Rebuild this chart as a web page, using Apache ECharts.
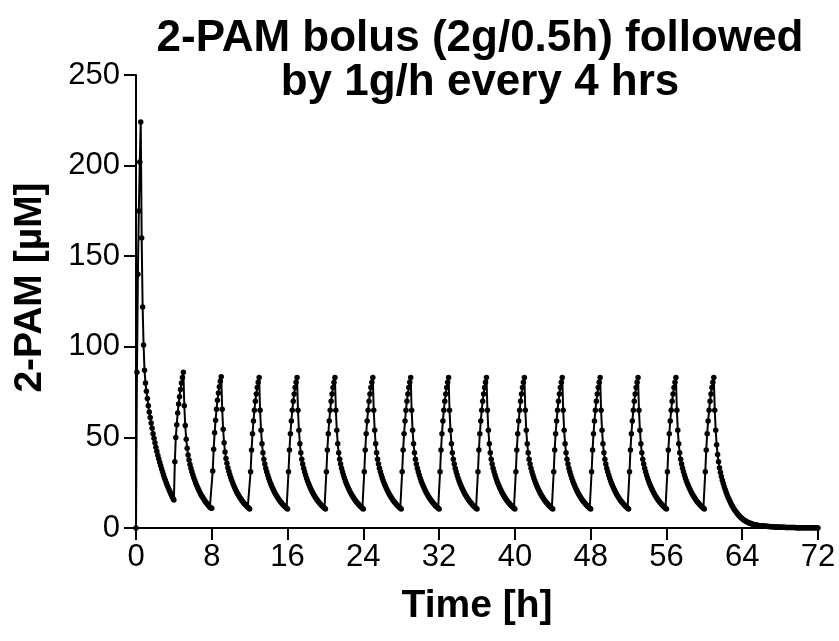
<!DOCTYPE html>
<html>
<head>
<meta charset="utf-8">
<title>2-PAM bolus</title>
<script src="https://cdn.jsdelivr.net/npm/echarts@6/dist/echarts.min.js"></script>
<style>
    html, body { margin: 0; padding: 0; background: #fff; }
    #chart { width: 839px; height: 641px; }
</style>
</head>
<body>
<div id="chart"></div>
<script>
    // sampling grid of the simulation (hours between points)
    var sampleStep = 0.1;

    // 0 - 3.9 h : loading bolus 2 g over 0.5 h
    var bolusPhase = [
        0, 86, 140, 175, 202, 224, 160, 122, 101, 87,
        80, 75.5, 71.5, 67.5, 64, 61, 58, 55, 52, 49.5,
        47, 44.5, 42.3, 40.2, 38.2, 36.3, 34.5, 32.7, 31, 29.4,
        27.8, 26.3, 24.9, 23.5, 22.2, 21, 19.8, 18.6, 17.4, 16.4
    ];

    // maintenance doses 1 g/h, one row per 4 h cycle, starting at 4, 8, ... 56 h
    var cycleStarts = [4, 8, 12, 16, 20, 24, 28, 32, 36, 40, 44, 48, 52, 56];
    var cycleValues = [
        [15.5, 36.5, 50, 57, 63.5, 68.5, 72.5, 76.5, 80, 83, 86, 67.5, 56.5, 49, 44, 40.3, 37.5, 35, 33, 31.1, 29.4, 27.8, 26.3, 24.9, 23.6, 22.4, 21.2, 20.1, 19.1, 18.1, 17.2, 16.4, 15.6, 14.8, 14.1, 13.4, 12.7, 12.1, 11.5, 11],
        [10.9, 31.5, 43.5, 52.5, 59.5, 65.5, 70.5, 74.5, 78, 81, 83.5, 65.5, 54.5, 47, 42, 38.4, 35.7, 33.3, 31.3, 29.5, 27.9, 26.4, 25, 23.7, 22.5, 21.3, 20.2, 19.2, 18.3, 17.4, 16.6, 15.8, 15.1, 14.4, 13.7, 13.1, 12.5, 12, 11.5, 11],
        [10.5, 31, 43, 52, 59, 65, 70, 74, 77.5, 80.5, 83, 65, 54, 46.5, 41.5, 38, 35.3, 33, 31, 29.2, 27.6, 26.1, 24.7, 23.4, 22.2, 21.1, 20, 19, 18.1, 17.2, 16.4, 15.6, 14.9, 14.2, 13.6, 13, 12.4, 11.9, 11.4, 10.9],
        [10.5, 31, 43, 52, 59, 65, 70, 74, 77.5, 80.5, 83, 65, 54, 46.5, 41.5, 38, 35.3, 33, 31, 29.2, 27.6, 26.1, 24.7, 23.4, 22.2, 21.1, 20, 19, 18.1, 17.2, 16.4, 15.6, 14.9, 14.2, 13.6, 13, 12.4, 11.9, 11.4, 10.9],
        [10.5, 31, 43, 52, 59, 65, 70, 74, 77.5, 80.5, 83, 65, 54, 46.5, 41.5, 38, 35.3, 33, 31, 29.2, 27.6, 26.1, 24.7, 23.4, 22.2, 21.1, 20, 19, 18.1, 17.2, 16.4, 15.6, 14.9, 14.2, 13.6, 13, 12.4, 11.9, 11.4, 10.9],
        [10.5, 31, 43, 52, 59, 65, 70, 74, 77.5, 80.5, 83, 65, 54, 46.5, 41.5, 38, 35.3, 33, 31, 29.2, 27.6, 26.1, 24.7, 23.4, 22.2, 21.1, 20, 19, 18.1, 17.2, 16.4, 15.6, 14.9, 14.2, 13.6, 13, 12.4, 11.9, 11.4, 10.9],
        [10.5, 31, 43, 52, 59, 65, 70, 74, 77.5, 80.5, 83, 65, 54, 46.5, 41.5, 38, 35.3, 33, 31, 29.2, 27.6, 26.1, 24.7, 23.4, 22.2, 21.1, 20, 19, 18.1, 17.2, 16.4, 15.6, 14.9, 14.2, 13.6, 13, 12.4, 11.9, 11.4, 10.9],
        [10.5, 31, 43, 52, 59, 65, 70, 74, 77.5, 80.5, 83, 65, 54, 46.5, 41.5, 38, 35.3, 33, 31, 29.2, 27.6, 26.1, 24.7, 23.4, 22.2, 21.1, 20, 19, 18.1, 17.2, 16.4, 15.6, 14.9, 14.2, 13.6, 13, 12.4, 11.9, 11.4, 10.9],
        [10.5, 31, 43, 52, 59, 65, 70, 74, 77.5, 80.5, 83, 65, 54, 46.5, 41.5, 38, 35.3, 33, 31, 29.2, 27.6, 26.1, 24.7, 23.4, 22.2, 21.1, 20, 19, 18.1, 17.2, 16.4, 15.6, 14.9, 14.2, 13.6, 13, 12.4, 11.9, 11.4, 10.9],
        [10.5, 31, 43, 52, 59, 65, 70, 74, 77.5, 80.5, 83, 65, 54, 46.5, 41.5, 38, 35.3, 33, 31, 29.2, 27.6, 26.1, 24.7, 23.4, 22.2, 21.1, 20, 19, 18.1, 17.2, 16.4, 15.6, 14.9, 14.2, 13.6, 13, 12.4, 11.9, 11.4, 10.9],
        [10.5, 31, 43, 52, 59, 65, 70, 74, 77.5, 80.5, 83, 65, 54, 46.5, 41.5, 38, 35.3, 33, 31, 29.2, 27.6, 26.1, 24.7, 23.4, 22.2, 21.1, 20, 19, 18.1, 17.2, 16.4, 15.6, 14.9, 14.2, 13.6, 13, 12.4, 11.9, 11.4, 10.9],
        [10.5, 31, 43, 52, 59, 65, 70, 74, 77.5, 80.5, 83, 65, 54, 46.5, 41.5, 38, 35.3, 33, 31, 29.2, 27.6, 26.1, 24.7, 23.4, 22.2, 21.1, 20, 19, 18.1, 17.2, 16.4, 15.6, 14.9, 14.2, 13.6, 13, 12.4, 11.9, 11.4, 10.9],
        [10.5, 31, 43, 52, 59, 65, 70, 74, 77.5, 80.5, 83, 65, 54, 46.5, 41.5, 38, 35.3, 33, 31, 29.2, 27.6, 26.1, 24.7, 23.4, 22.2, 21.1, 20, 19, 18.1, 17.2, 16.4, 15.6, 14.9, 14.2, 13.6, 13, 12.4, 11.9, 11.4, 10.9],
        [10.5, 31, 43, 52, 59, 65, 70, 74, 77.5, 80.5, 83, 65, 54, 46.5, 41.5, 38, 35.3, 33, 31, 29.2, 27.6, 26.1, 24.7, 23.4, 22.2, 21.1, 20, 19, 18.1, 17.2, 16.4, 15.6, 14.9, 14.2, 13.6, 13, 12.4, 11.9, 11.4, 10.9]
    ];

    // 60 - 72 h : last dose and washout
    var washout = [
        10.5, 31, 43, 52, 59, 65, 70, 74, 77.5, 80.5, 83,
        65, 54, 46, 40.5, 36.5, 33.3, 30.7, 28.4, 26.4, 24.5,
        22.8, 21.2, 19.7, 18.3, 17, 15.8, 14.7, 13.6, 12.6, 11.7,
        10.8, 10, 9.2, 8.5, 7.8, 7.2, 6.6, 6.1, 5.6, 5.1,
        4.7, 4.3, 4, 3.7, 3.4, 3.1, 2.9, 2.7, 2.5, 2.3,
        2.1, 1.95, 1.8, 1.7, 1.6, 1.5, 1.4, 1.3, 1.25, 1.2,
        1.15, 1.1, 1.05, 1, 0.95, 0.9, 0.86, 0.82, 0.78, 0.74,
        0.7, 0.67, 0.64, 0.61, 0.58, 0.55, 0.52, 0.5, 0.47, 0.45,
        0.43, 0.41, 0.39, 0.37, 0.35, 0.34, 0.32, 0.31, 0.29, 0.28,
        0.27, 0.25, 0.24, 0.23, 0.22, 0.21, 0.2, 0.19, 0.18, 0.17,
        0.16, 0.16, 0.15, 0.14, 0.13, 0.13, 0.12, 0.12, 0.11, 0.1,
        0.1, 0.09, 0.09, 0.08, 0.08, 0.08, 0.07, 0.07, 0.07, 0.06
    ];

    var xTicks = [0, 8, 16, 24, 32, 40, 48, 56, 64, 72];
    var yTicks = [0, 50, 100, 150, 200, 250];

    // put the pieces together on the time grid
    var concentration = bolusPhase.slice();
    cycleValues.forEach(function (row) {
        concentration = concentration.concat(row);
    });
    concentration = concentration.concat(washout);

    var points = concentration.map(function (v, i) {
        return [Math.round(i * sampleStep * 10) / 10, v];
    });

    var FONT = "'Liberation Sans', Arial, sans-serif";

    var myChart = echarts.init(document.getElementById('chart'));

    var option = {
        animation: false,
        backgroundColor: '#fff',
        title: {
            text: '2-PAM bolus (2g/0.5h) followed\nby 1g/h every 4 hrs',
            left: 475,
            top: 12,
            textAlign: 'center',
            textStyle: {
                fontFamily: FONT,
                fontSize: 44,
                fontWeight: 'bold',
                lineHeight: 44,
                color: '#000'
            }
        },
        grid: {
            left: 136,
            right: 21,
            top: 75,
            bottom: 113
        },
        xAxis: {
            type: 'value',
            min: xTicks[0],
            max: xTicks[xTicks.length - 1],
            interval: xTicks[1] - xTicks[0],
            name: 'Time [h]',
            nameLocation: 'middle',
            nameGap: 59,
            nameTextStyle: {
                fontFamily: FONT,
                fontSize: 39,
                fontWeight: 'bold',
                color: '#000'
            },
            axisLine: { lineStyle: { color: '#000', width: 2 } },
            axisTick: { length: 12, lineStyle: { color: '#000', width: 2 } },
            axisLabel: {
                margin: 14,
                fontFamily: FONT,
                fontSize: 31,
                color: '#000'
            },
            splitLine: { show: false }
        },
        yAxis: {
            type: 'value',
            min: yTicks[0],
            max: yTicks[yTicks.length - 1],
            interval: yTicks[1] - yTicks[0],
            name: '2-PAM [µM]',
            nameLocation: 'middle',
            nameGap: 86,
            nameTextStyle: {
                fontFamily: FONT,
                fontSize: 39,
                fontWeight: 'bold',
                color: '#000',
                padding: [0, 0, 0, 28]
            },
            axisLine: { show: true, lineStyle: { color: '#000', width: 2 } },
            axisTick: { show: true, length: 12, lineStyle: { color: '#000', width: 2 } },
            axisLabel: {
                margin: 16,
                fontFamily: FONT,
                fontSize: 31,
                color: '#000'
            },
            splitLine: { show: false }
        },
        series: [
            {
                name: '2-PAM',
                type: 'line',
                data: points,
                symbol: 'circle',
                symbolSize: 5.5,
                showAllSymbol: true,
                itemStyle: { color: '#000' },
                lineStyle: { color: '#000', width: 2 }
            }
        ]
    };

    myChart.setOption(option);
</script>
</body>
</html>
